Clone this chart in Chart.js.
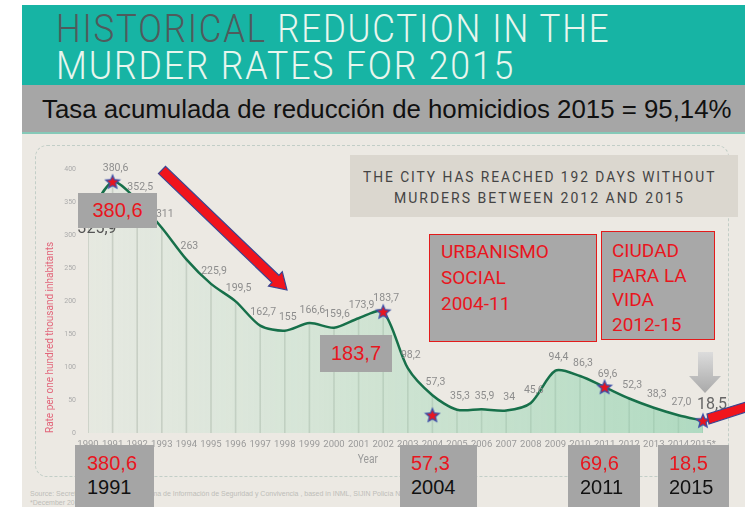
<!DOCTYPE html>
<html>
<head>
<meta charset="utf-8">
<script src="https://cdn.jsdelivr.net/npm/chart.js@4.4.1/dist/chart.umd.min.js"></script>
<style>
  body { margin: 0; width: 745px; height: 507px; overflow: hidden; background: #fff; position: relative; font-family: 'Liberation Sans', Arial, sans-serif; }
  .abs { position: absolute; }
  #head { left: 22px; top: 5px; width: 723px; height: 80px; background: #17b4a4; }
  .ttl { position: absolute; left: 56px; font-family: Roboto; font-weight: 300; font-size: 39px; line-height: 39px; color: #e8f6ee; white-space: nowrap; transform-origin: 0 0; letter-spacing: 2px; }
  .ttl b { font-weight: 300; color: #4f5b5c; }
  #band { left: 22px; top: 85px; width: 723px; height: 47px; background: #a6a6a6; border-bottom: 2px solid #86c9b8; }
  #bandtxt { left: 42px; top: 96px; font-family: 'Liberation Sans', sans-serif; font-size: 26px; line-height: 26px; color: #111; white-space: nowrap; transform-origin: 0 0; }
  #paper { left: 22px; top: 134px; width: 723px; height: 373px; background: #ece9e3; }
  #panel { left: 35px; top: 145px; width: 692px; height: 330px; border: 1px dashed #c2cec7; border-radius: 12px; }
  #c { position: absolute; left: 0; top: 0; z-index: 2; }
  .over { z-index: 3; }
  #city { left: 350px; top: 155px; width: 388px; height: 62px; background: #dbd7cf; }
  .cityt { position: absolute; font-family: Roboto; font-size: 14px; line-height: 14px; color: #444; letter-spacing: 2px; white-space: nowrap; transform-origin: 0 0; }
  .gbox { background: #a5a5a5; color: #e8161e; font-size: 20px; line-height: 24px; }
  .gbox span { display: block; }
  .gbox .yr { color: #111; }
  .rbox { background: #a8a8a8; border: 1.5px solid #e31b1b; box-sizing: border-box; color: #e8161e; font-family: Roboto; font-size: 19px; }
  #yearT { left: 356px; top: 452px; font-family: Roboto, sans-serif; font-size: 12px; color: #9a9a9a; z-index: 3; transform: scaleX(0.85); }
  .src { left: 30px; font-size: 7px; color: #bdbdb8; white-space: nowrap; z-index: 1; }
</style>
</head>
<body>
<div id="head" class="abs"></div>
<div class="ttl" id="t1" style="top:10px"><b>HISTORICAL</b> REDUCTION IN THE</div>
<div class="ttl" id="t2" style="top:47px">MURDER RATES FOR 2015</div>
<div id="band" class="abs"></div>
<div id="bandtxt" class="abs">Tasa acumulada de reducción de homicidios 2015 = 95,14%</div>
<div id="paper" class="abs"></div>
<div id="panel" class="abs"></div>
<div class="abs src" style="top:490px">Source: Secretaría de Seguridad, Sistema de Información de Seguridad y Convivencia , based in INML, SIJIN Policía Nacional, CTI</div>
<div class="abs src" style="top:499px">*December 2015</div>

<canvas id="c" width="745" height="507"></canvas>

<div id="city" class="abs over"></div>
<div class="cityt over" id="c1" style="left:363px; top:170px">THE CITY HAS REACHED 192 DAYS WITHOUT</div>
<div class="cityt over" id="c2" style="left:394px; top:191px">MURDERS BETWEEN 2012 AND 2015</div>

<div class="abs over rbox" style="left:429px; top:234px; width:168px; height:108px; padding:4px 0 0 11px; line-height:26px">URBANISMO<br>SOCIAL<br>2004-11</div>
<div class="abs over rbox" style="left:601px; top:231px; width:114px; height:109px; padding:7px 0 0 10px; line-height:24.5px">CIUDAD<br>PARA LA<br>VIDA<br>2012-15</div>

<div class="abs over gbox" style="left:78px; top:193px; width:79px; height:35px; line-height:35px; text-align:center">380,6</div>
<div class="abs over gbox" style="left:320px; top:335px; width:72px; height:37px; line-height:37px; text-align:center">183,7</div>

<div class="abs over gbox" style="left:75px; top:445px; width:79px; height:62px; padding:6px 0 0 12px; box-sizing:border-box"><span>380,6</span><span class="yr">1991</span></div>
<div class="abs over gbox" style="left:400px; top:445px; width:77px; height:62px; padding:6px 0 0 11px; box-sizing:border-box"><span>57,3</span><span class="yr">2004</span></div>
<div class="abs over gbox" style="left:568px; top:445px; width:72px; height:62px; padding:6px 0 0 12px; box-sizing:border-box"><span>69,6</span><span class="yr">2011</span></div>
<div class="abs over gbox" style="left:658px; top:445px; width:71px; height:62px; padding:6px 0 0 11px; box-sizing:border-box"><span>18,5</span><span class="yr">2015</span></div>

<div id="yearT" class="abs">Year</div>

<svg class="abs over" width="745" height="507" style="left:0;top:0;pointer-events:none">
  <defs>
    <linearGradient id="ga" x1="0" y1="0" x2="0" y2="1">
      <stop offset="0" stop-color="#dcdcdc"/>
      <stop offset="1" stop-color="#a9a9a9"/>
    </linearGradient>
  </defs>
  <polygon points="158.5,173.6 271.9,282.5 268.5,286.1 287,290 282.3,271.7 278.9,275.3 165.5,166.4" fill="#f0141c" stroke="#3a4592" stroke-width="1.2"/>
  <polygon points="698,352 713,352 713,376 721,376 705,393 689,376 698,376" fill="url(#ga)"/>
  <polygon points="707,414 746,402 746,412 709,424" fill="#f0141c" stroke="#3a4592" stroke-width="1.2"/>
</svg>

<script>
// Medellín murder rate per 100k inhabitants
const years = ['1990', '1991', '1992', '1993', '1994', '1995', '1996', '1997', '1998', '1999', '2000', '2001', '2002',
  '2003', '2004', '2005', '2006', '2007', '2008', '2009', '2010', '2011', '2012', '2013', '2014', '2015*'];
const rates = [325.9, 380.6, 352.5, 311, 263, 225.9, 199.5, 162.7, 155, 166.6, 159.6, 173.9, 183.7,
  98.2, 57.3, 35.3, 35.9, 34, 45.6, 94.4, 86.3, 69.6, 52.3, 38.3, 27.0, 18.5];
const pointLabels = ['325,9', '380,6', '352,5', '311', '263', '225,9', '199,5', '162,7', '155', '166,6', '159,6', '173,9', '183,7',
  '98,2', '57,3', '35,3', '35,9', '34', '45,6', '94,4', '86,3', '69,6', '52,3', '38,3', '27,0', '18,5'];
// highlighted stars (the 2004 one sits below the curve in the original)
const stars = [null, 380.6, null, null, null, null, null, null, null, null, null, null, 183.7,
  null, 27, null, null, null, null, null, null, 69.6, null, null, null, 18.5];

// squeeze the condensed headline texts to their width
function fit(id, w) {
  const el = document.getElementById(id);
  el.style.transform = 'scaleX(' + (w / el.scrollWidth) + ')';
}
fit('t1', 554);
fit('t2', 459);
fit('bandtxt', 690);
fit('c1', 353);
fit('c2', 291);

function makeStar() {
  const c = document.createElement('canvas');
  c.width = c.height = 18;
  const g = c.getContext('2d');
  const star = (r1, r2, color) => {
    g.beginPath();
    for (let i = 0; i < 10; i++) {
      const r = i % 2 ? r2 : r1;
      const a = -Math.PI / 2 + i * Math.PI / 5;
      g.lineTo(9 + r * Math.cos(a), 9.5 + r * Math.sin(a));
    }
    g.closePath();
    g.fillStyle = color;
    g.fill();
  };
  star(8.8, 3.9, '#3b4fa8');
  star(5.6, 2.4, '#e8151f');
  return c;
}

const labelPlugin = {
  id: 'pointLabels',
  afterDatasetsDraw(chart) {
    const meta = chart.getDatasetMeta(1);
    const ctx = chart.ctx;
    ctx.save();
    ctx.textAlign = 'center';
    ctx.textBaseline = 'middle';
    meta.data.forEach((pt, i) => {
      let dx = 3, dy = -13;
      ctx.font = '10.5px Roboto, sans-serif';
      ctx.fillStyle = '#8d8d8d';
      if (i === 0) { dx = 9; dy = 11; ctx.font = '16px Roboto, sans-serif'; ctx.fillStyle = '#555'; }
      if (i === rates.length - 1) { dx = 9; dy = -16; ctx.font = '16px Roboto, sans-serif'; ctx.fillStyle = '#666'; }
      ctx.fillText(pointLabels[i], pt.x + dx, pt.y + dy);
    });
    ctx.restore();
  }
};

new Chart(document.getElementById('c'), {
  data: {
    labels: years,
    datasets: [
      {
        type: 'bar',
        data: rates,
        backgroundColor: '#c3c3bb',
        barThickness: 1,
        order: 3
      },
      {
        type: 'line',
        data: rates,
        borderColor: '#17704a',
        borderWidth: 2.5,
        tension: 0.28,
        pointRadius: 0,
        fill: 'origin',
        backgroundColor: function(context) {
          const area = context.chart.chartArea;
          if (!area) return 'rgba(170,215,185,0.4)';
          const g = context.chart.ctx.createLinearGradient(area.left, 0, area.right, 0);
          g.addColorStop(0, 'rgba(215,232,220,0.3)');
          g.addColorStop(0.45, 'rgba(180,222,195,0.5)');
          g.addColorStop(1, 'rgba(150,212,178,0.7)');
          return g;
        },
        order: 2
      },
      {
        type: 'line',
        data: stars,
        showLine: false,
        pointStyle: makeStar(),
        pointRadius: 9,
        order: 1
      }
    ]
  },
  options: {
    responsive: false,
    animation: false,
    layout: { padding: { left: 40, right: 42, top: 169, bottom: 0 } },
    plugins: { legend: { display: false }, tooltip: { enabled: false } },
    scales: {
      x: {
        offset: false,
        grid: { display: false, drawTicks: false },
        border: { display: false },
        ticks: { color: '#9a9a9a', font: { size: 9.5, family: 'Roboto' }, padding: 6, maxRotation: 0, autoSkip: false },
        afterFit(s) { s.height = 74; }
      },
      y: {
        min: 0,
        max: 400,
        grid: { display: false, drawTicks: false },
        border: { display: false },
        ticks: { stepSize: 50, color: '#ababab', font: { size: 7, family: 'Roboto' }, padding: 12 },
        title: { display: true, text: 'Rate per one hundred thousand inhabitants', color: '#e2667a', align: 'start', font: { size: 10, family: 'Roboto' } },
        afterFit(s) { s.width = 48; }
      }
    }
  },
  plugins: [labelPlugin]
});
</script>
</body>
</html>
